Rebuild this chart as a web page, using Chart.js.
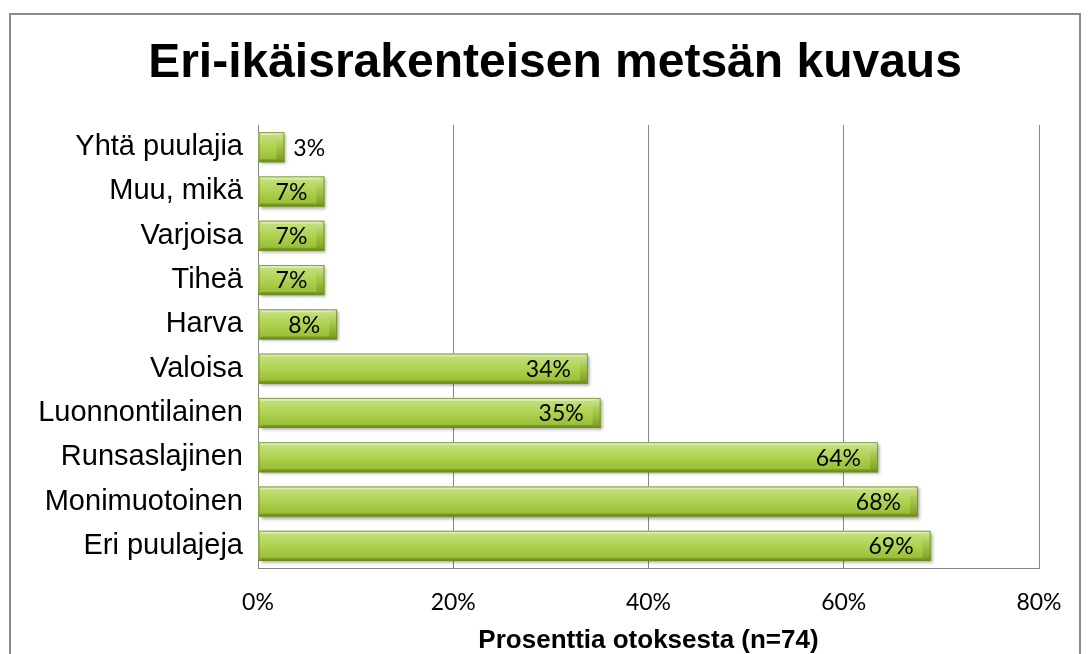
<!DOCTYPE html>
<html>
<head>
<meta charset="utf-8">
<script src="https://cdn.jsdelivr.net/npm/chart.js@4/dist/chart.umd.min.js"></script>
<style>
  body { margin: 0; background: #fff; }
  #wrap { width: 1090px; height: 654px; }
</style>
</head>
<body>
<div id="wrap"><canvas id="chart" width="1090" height="654"></canvas></div>
<script>
// Categories, top to bottom as in the picture
const categories = ["Yhtä puulajia", "Muu, mikä", "Varjoisa", "Tiheä", "Harva",
  "Valoisa", "Luonnontilainen", "Runsaslajinen", "Monimuotoinen", "Eri puulajeja"];
// Share of respondents (%), n=74
const values = [2.7, 6.8, 6.8, 6.8, 8.1, 33.8, 35.1, 63.5, 67.6, 68.9];
const xTicks = [0, 20, 40, 60, 80];
const chartTitle = "Eri-ikäisrakenteisen metsän kuvaus";

const gridGray = "#868686";

// Outer frame and the title (centred on the frame, not the plot)
const framePlugin = {
  id: "frame",
  beforeDraw(chart) {
    const ctx = chart.ctx;
    ctx.save();
    ctx.fillStyle = "#fff";
    ctx.fillRect(0, 0, chart.width, chart.height);
    ctx.strokeStyle = "#8c8c8c";
    ctx.lineWidth = 2;
    ctx.strokeRect(10, 14, 1070, 700);
    ctx.font = "bold 48px 'Liberation Sans', Arial";
    ctx.fillStyle = "#000";
    ctx.textAlign = "center";
    ctx.textBaseline = "alphabetic";
    ctx.fillText(chartTitle, 555, 77);
    ctx.restore();
  }
};

// Soft shadow under bars, then a bevelled gradient on top and the value labels
const barStylePlugin = {
  id: "barStyle",
  beforeDatasetsDraw(chart) {
    const ctx = chart.ctx;
    ctx.save();
    ctx.shadowColor = "rgba(0,0,0,0.35)";
    ctx.shadowBlur = 3;
    ctx.shadowOffsetX = 2;
    ctx.shadowOffsetY = 2;
  },
  afterDatasetsDraw(chart) {
    const ctx = chart.ctx;
    ctx.restore();
    const meta = chart.getDatasetMeta(0);
    meta.data.forEach((bar, i) => {
      const p = bar.getProps(["x", "y", "base", "height"], true);
      const left = Math.min(p.base, p.x);
      const right = Math.max(p.base, p.x);
      const top = p.y - p.height / 2;
      const bottom = p.y + p.height / 2;
      const bv = 3;
      const bh = Math.min(8, (right - left) / 3);

      ctx.save();
      let g = ctx.createLinearGradient(0, top, 0, bottom);
      g.addColorStop(0, "#d3e99d");
      g.addColorStop(0.1, "#c3df7a");
      g.addColorStop(0.5, "#afd250");
      g.addColorStop(0.88, "#9abf38");
      g.addColorStop(1, "#7b9b2a");
      ctx.fillStyle = g;
      ctx.fillRect(left, top, right - left, bottom - top);

      // bevel faces
      ctx.fillStyle = "rgba(255,255,255,0.35)";
      ctx.beginPath();
      ctx.moveTo(left, top); ctx.lineTo(right, top);
      ctx.lineTo(right - bh, top + bv); ctx.lineTo(left + bv, top + bv);
      ctx.closePath(); ctx.fill();

      ctx.fillStyle = "rgba(60,80,0,0.25)";
      ctx.beginPath();
      ctx.moveTo(left, bottom); ctx.lineTo(right, bottom);
      ctx.lineTo(right - bh, bottom - bv); ctx.lineTo(left + bv, bottom - bv);
      ctx.closePath(); ctx.fill();

      let rg = ctx.createLinearGradient(0, top, 0, bottom);
      rg.addColorStop(0, "rgba(255,255,255,0.25)");
      rg.addColorStop(0.5, "rgba(90,120,10,0.15)");
      rg.addColorStop(1, "rgba(60,80,0,0.3)");
      ctx.fillStyle = rg;
      ctx.beginPath();
      ctx.moveTo(right, top); ctx.lineTo(right, bottom);
      ctx.lineTo(right - bh, bottom - bv); ctx.lineTo(right - bh, top + bv);
      ctx.closePath(); ctx.fill();

      ctx.strokeStyle = "rgba(110,140,40,0.8)";
      ctx.lineWidth = 1;
      ctx.strokeRect(left + 0.5, top + 0.5, right - left - 1, bottom - top - 1);

      // value label
      const txt = Math.round(values[i]) + "%";
      ctx.font = "23px Lato";
      ctx.fillStyle = "#000";
      ctx.textBaseline = "middle";
      ctx.textAlign = "right";
      let tx = right - 17;
      if (ctx.measureText(txt).width + 24 > right - left) {
        ctx.textAlign = "left";
        tx = right + 9;
      }
      ctx.fillText(txt, tx, p.y + 1);
      ctx.restore();
    });
  }
};

new Chart(document.getElementById("chart"), {
  type: "bar",
  data: {
    labels: categories,
    datasets: [{
      data: values,
      backgroundColor: "#afd250",
      borderWidth: 0,
      categoryPercentage: 1,
      barPercentage: 0.68
    }]
  },
  options: {
    indexAxis: "y",
    responsive: false,
    animation: false,
    layout: { padding: { top: 125, right: 51, left: 0, bottom: 0 } },
    plugins: {
      legend: { display: false },
      tooltip: { enabled: false },
      title: { display: false }
    },
    scales: {
      x: {
        min: 0,
        max: 80,
        afterBuildTicks(scale) {
          scale.ticks = xTicks.map(v => ({ value: v }));
        },
        afterFit(scale) { scale.height = 86; },
        grid: { color: gridGray, drawTicks: false },
        border: { display: true, color: gridGray },
        ticks: {
          padding: 21,
          color: "#000",
          font: { family: "Lato", size: 23 },
          callback: v => v + "%"
        },
        title: {
          display: true,
          text: "Prosenttia otoksesta (n=74)",
          color: "#000",
          font: { family: "Liberation Sans, Arial", size: 26, weight: "bold", lineHeight: 1.0 },
          padding: { top: 0, bottom: 0 }
        }
      },
      y: {
        afterFit(scale) { scale.width = 258; },
        grid: { display: false, drawTicks: false },
        border: { display: true, color: gridGray },
        ticks: {
          padding: 15,
          color: "#000",
          font: { family: "Liberation Sans, Arial", size: 29 }
        }
      }
    }
  },
  plugins: [framePlugin, barStylePlugin]
});
</script>
</body>
</html>
